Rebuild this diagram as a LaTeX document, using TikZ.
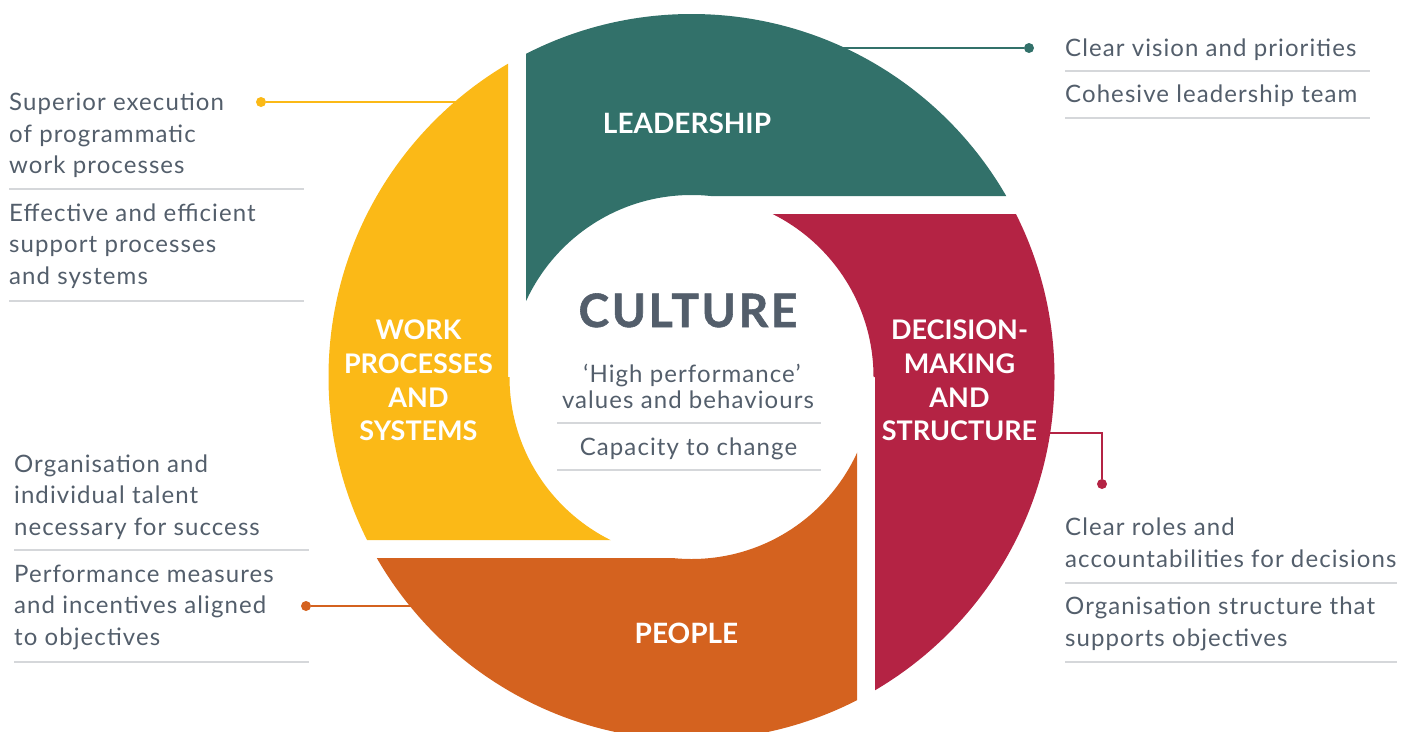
\documentclass[tikz,border=0pt]{standalone}
\usepackage{fontspec}
\setmainfont{Lato}
\newfontfamily\bodyfont{Lato}[LetterSpace=4.5]
\newfontfamily\heavyfont{Lato}[BoldFeatures={FakeBold=1.2,LetterSpace=6}]
\definecolor{cteal}{HTML}{32716A}
\definecolor{cred}{HTML}{B42344}
\definecolor{corange}{HTML}{D4621F}
\definecolor{cyellow}{HTML}{FBB917}
\definecolor{ctext}{HTML}{535E6B}
\definecolor{crule}{HTML}{D5D7DA}
\begin{document}
\begin{tikzpicture}[x=1pt,y=-1pt,
  body/.style={anchor=base west, inner sep=0pt, text=ctext, font=\bodyfont\fontsize{24}{28}\selectfont},
  ctr/.style={anchor=base, inner sep=0pt, text=ctext, font=\bodyfont\fontsize{24}{28}\selectfont},
  seglabel/.style={anchor=base, inner sep=0pt, text=white, font=\bfseries\fontsize{27}{32}\selectfont},
  divider/.style={draw=crule, line width=1.6pt},
  dotmark/.style={circle, fill=#1, inner sep=0pt, minimum size=10pt},
  callout/.style={draw=#1, line width=2.6pt}]
\useasboundingbox (0,0) rectangle (1415,731);
\coordinate (O) at (691.5,377);

% connectors (behind the segments)
\node[dotmark=cteal] (dL) at (1029,48) {};
\coordinate (eL) at (830,48);
\draw[callout=cteal] (dL) -- (eL);
\node[dotmark=cyellow] (dW) at (261,102) {};
\coordinate (eW) at (470,102);
\draw[callout=cyellow] (dW) -- (eW);
\node[dotmark=corange] (dP) at (306,606) {};
\coordinate (eP) at (425,606);
\draw[callout=corange] (dP) -- (eP);
\node[dotmark=cred] (dD) at (1102,484) {};
\coordinate (eD) at (1040,433);
\draw[callout=cred] (eD) -- (1102,433) -- (dD);

% segments
\begin{scope}
\clip (526,0) -- (1100,0) -- (1100,196) -- (691.5,196) -- (691.5,377) -- (526,377) -- cycle;
\fill[cteal, even odd rule] (O) circle[radius=363pt] (O) circle[radius=182pt];
\end{scope}
\begin{scope}
\clip (691.5,214) -- (1100,214) -- (1100,760) -- (875,760) -- (875,377) -- (691.5,377) -- cycle;
\fill[cred, even odd rule] (O) circle[radius=363pt] (O) circle[radius=182pt];
\end{scope}
\begin{scope}
\clip (857,377) -- (857,760) -- (300,760) -- (300,558) -- (691.5,558) -- (691.5,377) -- cycle;
\fill[corange, even odd rule] (O) circle[radius=363pt] (O) circle[radius=182pt];
\end{scope}
\begin{scope}
\clip (508,0) -- (300,0) -- (300,540) -- (691.5,540) -- (691.5,377) -- (508,377) -- cycle;
\fill[cyellow, even odd rule] (O) circle[radius=363pt] (O) circle[radius=182pt];
\end{scope}

% segment labels
\node[seglabel, font=\bfseries\fontsize{28}{32}\selectfont] (lead) at (687,133) {LEADERSHIP};
\node[seglabel] (w1) at (418.5,339) {WORK};
\node[seglabel] (w2) at (418.5,373) {PROCESSES};
\node[seglabel] (w3) at (418.5,407) {AND};
\node[seglabel] (w4) at (418.5,440) {SYSTEMS};
\node[seglabel] (d1) at (959.5,339) {DECISION-};
\node[seglabel] (d2) at (959.5,373) {MAKING};
\node[seglabel] (d3) at (959.5,407) {AND};
\node[seglabel] (d4) at (959.5,440) {STRUCTURE};
\node[seglabel, font=\bfseries\fontsize{28}{32}\selectfont] (peo) at (686.5,643) {PEOPLE};

% centre
\node[anchor=base, inner sep=0pt, text=ctext, font=\heavyfont\bfseries\fontsize{46}{50}\selectfont] (cul) at (688,327) {CULTURE};
\node[ctr] (c1) at (692,382) {‘High performance’};
\node[ctr] (c2) at (688,408) {values and behaviours};
\node[ctr] (c3) at (688.5,455) {Capacity to change};
\draw[divider] (557,423) -- (821,423);
\draw[divider] (557,470) -- (821,470);

% top right
\node[body] (r1) at (1065,56) {Clear vision and priorities};
\draw[divider] (1065,71) -- (1370,71);
\node[body] (r2) at (1065,102.5) {Cohesive leadership team};
\draw[divider] (1065,118) -- (1370,118);

% top left
\node[body] (a1) at (9,110.5) {Superior execution};
\node[body] (a2) at (9,142) {of programmatic};
\node[body] (a3) at (9,173.5) {work processes};
\draw[divider] (9,189) -- (304,189);
\node[body] (a4) at (9,221) {Effective and efficient};
\node[body] (a5) at (9,252.5) {support processes};
\node[body] (a6) at (9,284) {and systems};
\draw[divider] (9,301) -- (304,301);

% bottom left
\node[body] (b1) at (14,472) {Organisation and};
\node[body] (b2) at (14,503.5) {individual talent};
\node[body] (b3) at (14,535) {necessary for success};
\draw[divider] (14,550) -- (309,550);
\node[body] (b4) at (14,582) {Performance measures};
\node[body] (b5) at (14,613.5) {and incentives aligned};
\node[body] (b6) at (14,645) {to objectives};
\draw[divider] (14,662) -- (309,662);

% bottom right
\node[body] (e1) at (1065,535) {Clear roles and};
\node[body] (e2) at (1065,567) {accountabilities for decisions};
\draw[divider] (1065,583) -- (1397,583);
\node[body] (e3) at (1065,614.5) {Organisation structure that};
\node[body] (e4) at (1065,646) {supports objectives};
\draw[divider] (1065,662) -- (1397,662);
\end{tikzpicture}
\end{document}
